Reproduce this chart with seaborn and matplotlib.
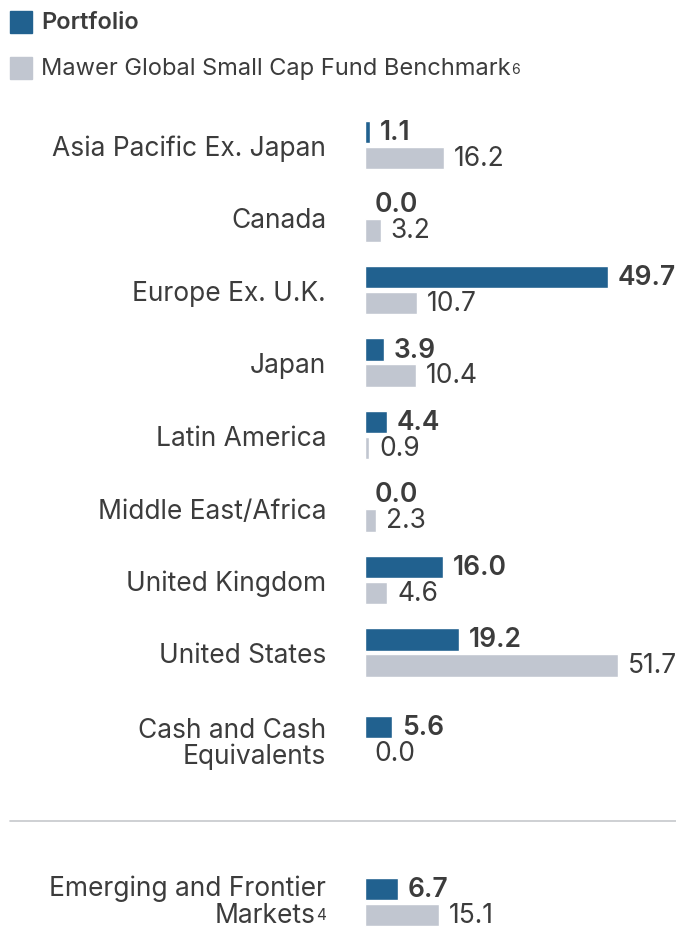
import pandas as pd
import matplotlib.pyplot as plt
import seaborn as sns

regions = ["Asia Pacific Ex. Japan", "Canada", "Europe Ex. U.K.", "Japan",
           "Latin America", "Middle East/Africa", "United Kingdom",
           "United States", "Cash and Cash\nEquivalents"]
portfolio = [1.1, 0.0, 49.7, 3.9, 4.4, 0.0, 16.0, 19.2, 5.6]
benchmark = [16.2, 3.2, 10.7, 10.4, 0.9, 2.3, 4.6, 51.7, 0.0]

em_lines = ["Emerging and Frontier", "Markets"]
em_note = "4"
em_portfolio = [6.7]
em_benchmark = [15.1]

series = ["Portfolio", "Mawer Global Small Cap Fund Benchmark"]
bench_note = "6"
colors = ["#21618f", "#c1c6d0"]
text_color = "#3c3c3c"

sns.set_theme(style="white")
plt.rcParams["font.family"] = ["Inter", "DejaVu Sans"]
plt.rcParams["text.color"] = text_color

W, H = 676, 928
fig = plt.figure(figsize=(W / 100, H / 100), dpi=100)

px_per_unit = 4.89
pitch = 72.5
fs = 19


def fx(px):
    return px / W


def fy(px):
    return 1 - px / H


def axes_rect(left_px, center0_px, lo, hi):
    top = center0_px + lo * pitch
    bottom = center0_px + hi * pitch
    return [fx(left_px), fy(bottom), (W - left_px) / W, (bottom - top) / H]


def draw(ax, labels, pos, port, bench, ylim):
    df = pd.DataFrame({
        "pos": pos * 2,
        "value": port + bench,
        "series": [series[0]] * len(port) + [series[1]] * len(bench),
    })
    sns.barplot(data=df, x="value", y="pos", hue="series", orient="y",
                native_scale=True, width=52 / pitch, gap=0.15,
                palette=colors, legend=False, saturation=1, ax=ax)
    ax.set_xlim(0, (W - 365) / px_per_unit)
    ax.set_ylim(*ylim)
    ax.set_yticks(pos)
    ax.set_yticklabels(labels, fontsize=fs, color=text_color, linespacing=1.0)
    ax.tick_params(axis="y", length=0, pad=28)
    ax.set_xticks([])
    ax.set_xlabel("")
    ax.set_ylabel("")
    sns.despine(ax=ax, left=True, bottom=True)
    for cont, vals, wt in zip(ax.containers, [port, bench], ["semibold", "normal"]):
        ax.bar_label(cont, labels=[f"{v:.1f}" for v in vals], padding=7,
                     fontsize=fs, fontweight=wt, color=text_color)


pos = list(range(8)) + [8.21]
ax = fig.add_axes(axes_rect(365, 146, -0.5, 8.8))
draw(ax, regions, pos, portfolio, benchmark, (8.8, -0.5))

ax2 = fig.add_axes(axes_rect(365, 903, -0.5, 0.5))
draw(ax2, [""], [0], em_portfolio, em_benchmark, (0.5, -0.5))

# emerging label with small footnote marker
fig.text(fx(326), fy(889), em_lines[0], fontsize=fs, ha="right", va="center")
fig.text(fx(316), fy(916), em_lines[1], fontsize=fs, ha="right", va="center")
fig.text(fx(326), fy(920), em_note, fontsize=11, ha="right", va="baseline")

# separator
fig.add_artist(plt.Line2D([fx(10), 1], [fy(822), fy(822)],
                          color="#c6c8cc", lw=1.2))

# legend
renderer = fig.canvas.get_renderer()
for i, (name, c) in enumerate(zip(series, colors)):
    yc = 23 + i * 45.5
    fig.add_artist(plt.Rectangle((fx(10), fy(yc + 11)), 22 / W, 22 / H,
                                 color=c, transform=fig.transFigure))
    t = fig.text(fx(41), fy(yc), name, fontsize=17,
                 fontweight="semibold" if i == 0 else "normal",
                 va="center", ha="left", color=text_color)
    if i == 1:
        bb = t.get_window_extent(renderer)
        fig.text(bb.x1 / W + fx(1), fy(yc + 5), bench_note, fontsize=10,
                 ha="left", va="baseline", color=text_color)

fig.savefig("out.png", dpi=100)
